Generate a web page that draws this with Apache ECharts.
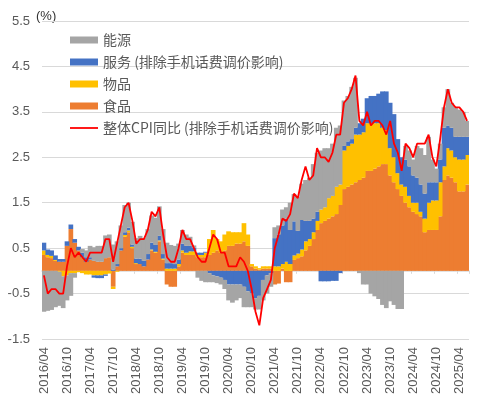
<!DOCTYPE html>
<html>
<head>
<meta charset="utf-8">
<script src="https://cdn.jsdelivr.net/npm/echarts@6/dist/echarts.min.js"></script>
<style>html,body{margin:0;padding:0;background:#fff;}#c{width:492px;height:409px;}</style>
</head>
<body>
<div id="c"></div>
<script>
// Monthly categories 2016/04 .. 2025/06
var startYear = 2016, startMonth = 4, monthCount = 111;
var categories = [];
for (var k = 0; k < monthCount; k++) {
  var m = startMonth - 1 + k;
  var y = startYear + Math.floor(m / 12);
  var mm = (m % 12) + 1;
  categories.push(y + '/' + (mm < 10 ? '0' + mm : mm));
}

var seriesNames = ['能源', '服务 (排除手机话费调价影响)', '物品', '食品', '整体CPI同比 (排除手机话费调价影响)'];

var food = [
  0.35,0.3,0.28,0.22,0.2,0.2,0.55,0.92,0.62,0.45,0.3,0.2,
  0.25,0.22,0.2,0.2,0.28,0.3,-0.35,0.1,0.45,0.75,0.85,0.5,
  0.15,0.15,0.1,0.25,0.45,0.4,0.65,0.25,-0.3,-0.35,-0.35,0.1,
  0.4,0.35,0.35,0.35,0.3,0.3,0.3,0.35,0.4,0.45,0.4,0.45,
  0.55,0.55,0.6,0.6,0.65,0.55,0.1,0.05,0.03,0.05,0.05,0.05,
  -0.3,-0.28,0.05,-0.25,-0.25,0.24,0.28,0.32,0.45,0.55,0.7,0.9,
  1.05,1.1,1.15,1.2,1.25,1.45,1.8,1.85,1.9,1.95,2.0,2.05,
  2.2,2.2,2.25,2.3,2.35,2.35,2.1,1.95,1.8,1.65,1.5,1.4,
  1.3,1.25,1.2,0.85,0.9,0.9,0.9,1.2,2.0,2.1,2.05,1.95,
  1.75,1.75,1.9
];
var goods = [
  0.1,0.05,0.05,0.02,-0.02,-0.12,-0.1,-0.05,-0.05,-0.03,-0.05,-0.08,
  -0.08,-0.1,-0.1,-0.1,-0.08,-0.06,-0.05,-0.02,0,0.04,0.04,0.03,
  0.02,0,0,0,0.02,0.02,0.02,0.02,0.05,0.05,0.05,0.05,
  0.05,0.05,0.08,0.08,0.05,0.05,0.1,0.35,0.5,0.25,0.25,0.35,
  0.32,0.3,0.25,0.25,0.4,0.25,0.05,0.05,0.03,0.05,0.05,0.05,
  0.1,0.1,0.1,0.2,0.15,0.1,0.1,0.15,0.2,0.15,0.15,0.2,
  0.3,0.3,0.45,0.45,0.6,0.45,0.85,0.9,0.9,1.05,1.0,1.0,
  1.05,1.05,1.0,0.95,0.8,0.75,0.6,0.55,0.35,0.25,0.35,0.25,
  0.2,0.25,0.1,0.3,0.6,0.65,0.65,0.75,0.3,0.6,0.6,0.55,
  0.7,0.7,0.65
];
var services = [
  0.17,0.12,0.12,0.1,0.06,0.06,0.1,0.1,0.08,0.08,0.1,0.1,
  0.05,-0.05,-0.06,-0.06,-0.03,0,0.03,0.05,0.05,0.06,0.06,0.05,
  0.1,0.12,0.12,0.12,0.15,0.15,0.1,0.1,0.12,0.12,0.1,0.1,
  0.15,0.15,0.12,0.08,0.05,0.05,0.02,-0.05,-0.1,-0.12,-0.15,-0.2,
  -0.3,-0.3,-0.3,-0.3,-0.35,-0.45,-0.5,-0.6,-0.55,-0.2,-0.1,-0.05,
  0.62,0.7,0.85,0.95,0.75,0.75,0.5,0.65,0.45,0.4,0.3,0.2,
  -0.23,-0.23,-0.23,-0.22,-0.22,-0.05,0.1,0.1,0.1,0.15,0.25,0.3,
  0.55,0.6,0.6,0.65,0.8,0.85,1.0,0.95,0.75,0.6,0.6,0.65,
  0.6,0.55,0.6,0.55,0.45,0.4,0.4,0.5,0.85,0.5,0.5,0.45,
  0.5,0.5,0.4
];
var energy = [
  -0.9,-0.88,-0.86,-0.8,-0.75,-0.7,-0.55,-0.5,-0.1,0,0.08,0.15,
  0.25,0.3,0.35,0.35,0.5,0.5,0.55,0.5,0.5,0.6,0.55,0.5,
  0.45,0.5,0.5,0.55,0.6,0.6,0.65,0.55,0.45,0.4,0.4,0.35,
  0.3,0.25,0.2,0.05,-0.15,-0.22,-0.25,-0.2,-0.15,-0.15,-0.15,-0.2,
  -0.35,-0.4,-0.35,-0.3,-0.45,-0.35,-0.3,-0.25,-0.3,-0.45,-0.4,-0.3,
  0.24,0.2,0.35,0.25,0.6,0.6,0.75,0.8,0.9,0.95,1.2,1.3,
  1.3,1.3,1.1,1.15,1.3,1.3,1.0,1.0,1.15,1.1,-0.05,-0.3,
  -0.3,-0.5,-0.56,-0.62,-0.75,-0.82,-0.67,-0.75,-0.84,-0.84,0.3,0.35,
  0.35,0.7,0.8,0.85,1.0,0.5,0.3,0.35,0.45,0.8,0.55,0.65,
  0.6,0.55,0.35
];
var cpiTotal = [
  -0.1,-0.5,-0.4,-0.4,-0.5,-0.5,0.1,0.5,0.3,0.4,0.3,0.2,
  0.4,0.4,0.4,0.4,0.7,0.7,0.2,0.6,1.0,1.4,1.5,1.1,
  0.6,0.7,0.7,0.9,1.3,1.2,1.4,0.8,0.3,0.2,0.2,0.5,
  0.9,0.7,0.7,0.5,0.3,0.2,0.2,0.5,0.8,0.7,0.4,0.4,
  0.1,0.1,0.1,0.3,0.2,0.0,-0.4,-0.9,-1.2,-0.6,-0.4,-0.2,
  0.5,0.8,1.15,1.1,1.25,1.7,1.6,2.0,2.3,2.0,2.1,2.7,
  2.5,2.5,2.4,2.6,3.0,3.0,3.7,3.8,4.0,4.3,3.3,3.2,
  3.5,3.2,3.3,3.3,3.2,3.0,3.3,2.8,2.6,2.2,2.8,2.7,
  2.5,2.8,2.8,2.8,3.0,2.5,2.3,2.9,3.6,4.0,3.7,3.6,
  3.6,3.5,3.3
];
var yTickLabels = ['-1.5','-0.5','0.5','1.5','2.5','3.5','4.5','5.5'];

var chart = echarts.init(document.getElementById('c'), null, {renderer: 'canvas'});
var labelColor = '#595959';
function barSeries(name, data, color) {
  return {
    type: 'bar', name: name, data: data, stack: 'cpi',
    barWidth: 4.7, xAxisIndex: 0, yAxisIndex: 0,
    itemStyle: {color: color}
  };
}
var option = {
  animation: false,
  backgroundColor: '#ffffff',
  textStyle: {fontFamily: 'Liberation Sans, Noto Sans CJK SC'},
  grid: {left: 42, right: 23, top: 21, bottom: 70, containLabel: false},
  graphic: [{type: 'text', left: 36, top: 10, style: {text: '(%)', fontSize: 13, fill: '#333333', fontFamily: 'Liberation Sans'}}],
  legend: {
    orient: 'vertical', left: 65, top: 28, itemWidth: 28, itemHeight: 7, itemGap: 8,
    textStyle: {fontSize: 14, color: labelColor, fontFamily: 'Noto Sans CJK SC'},
    data: [
      {name: seriesNames[0], icon: 'rect'},
      {name: seriesNames[1], icon: 'rect'},
      {name: seriesNames[2], icon: 'rect'},
      {name: seriesNames[3], icon: 'rect'},
      {name: seriesNames[4], icon: 'path://M0,0 L28,0 L28,1.8 L0,1.8 Z'}
    ]
  },
  xAxis: [
    {
      type: 'category', data: categories, position: 'bottom',
      axisLine: {show: false, onZero: false}, axisTick: {show: false},
      axisLabel: {interval: 5, rotate: 90, fontSize: 13, color: labelColor, margin: 8, fontFamily: 'Liberation Sans'},
      splitLine: {show: false}
    },
    {
      type: 'category', data: categories, position: 'bottom',
      axisLine: {show: true, onZero: true, lineStyle: {color: '#d9d9d9', width: 1.5}},
      axisTick: {show: true, interval: 5, length: 3, lineStyle: {color: '#d9d9d9'}},
      axisLabel: {show: false}, splitLine: {show: false}
    }
  ],
  yAxis: {
    type: 'value', min: -1.5, max: 5.5, interval: 0.5,
    axisLine: {show: false}, axisTick: {show: false},
    axisLabel: {
      fontSize: 13, color: labelColor, margin: 12, fontFamily: 'Liberation Sans',
      formatter: function (v) {
        var s = v.toFixed(1);
        return yTickLabels.indexOf(s) >= 0 ? s : '';
      }
    },
    splitLine: {show: true, lineStyle: {color: ['#d9d9d9', 'rgba(0,0,0,0)'], width: 1}}
  },
  series: [
    barSeries(seriesNames[3], food, '#ED7D31'),
    barSeries(seriesNames[2], goods, '#FFC000'),
    barSeries(seriesNames[1], services, '#4472C4'),
    barSeries(seriesNames[0], energy, '#A5A5A5'),
    {type: 'line', name: seriesNames[4], data: cpiTotal, xAxisIndex: 0, yAxisIndex: 0,
     symbol: 'none', z: 5, lineStyle: {color: '#FF0000', width: 1.8}, itemStyle: {color: '#FF0000'}}
  ]
};
chart.setOption(option);
</script>
</body>
</html>
